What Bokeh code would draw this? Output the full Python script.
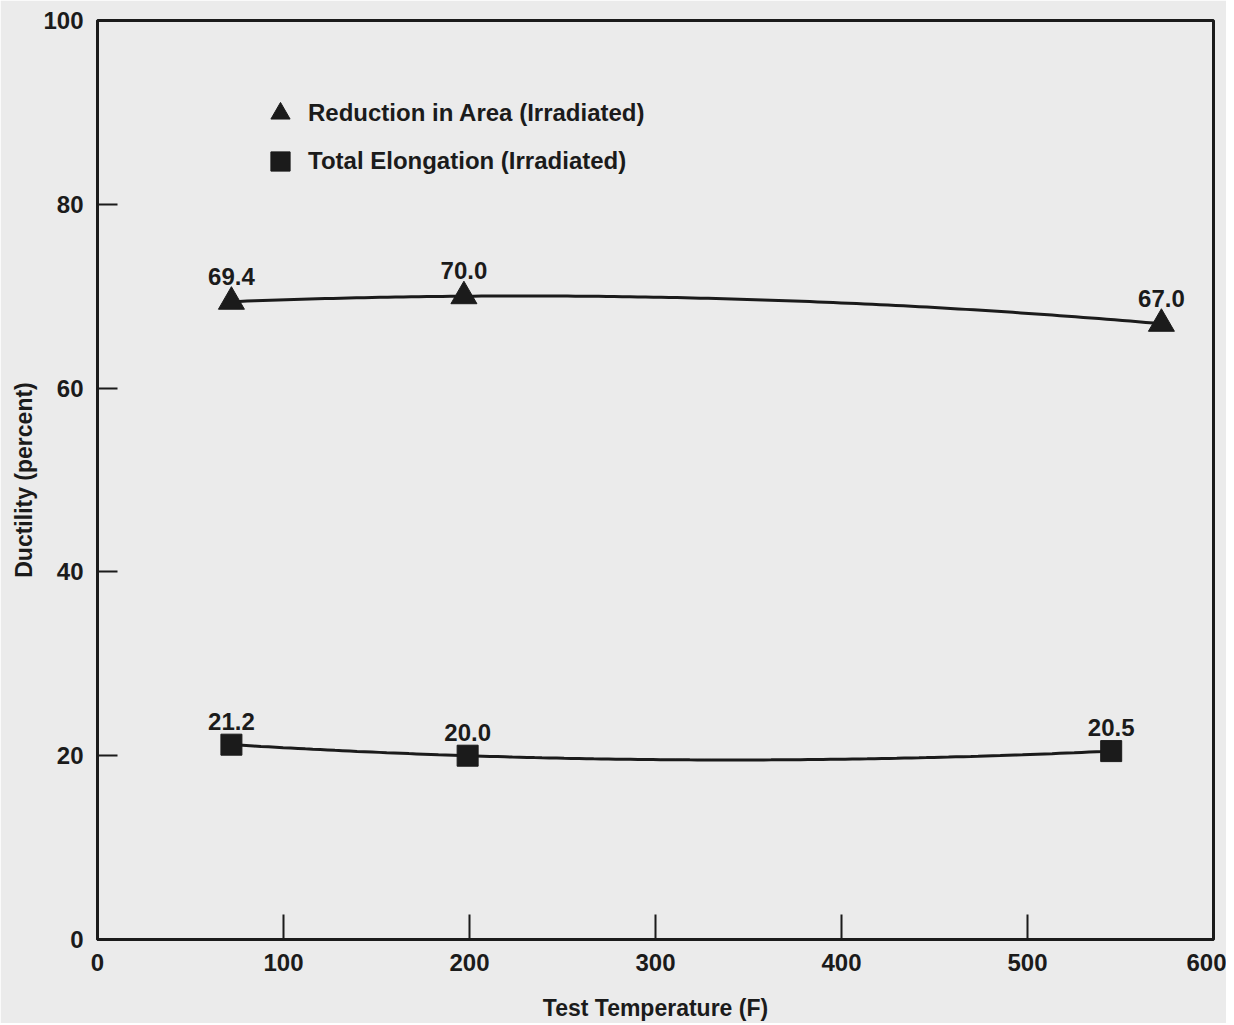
import numpy as np
from bokeh.plotting import figure
from bokeh.models import Range1d, FixedTicker, ColumnDataSource, Legend, LegendItem
from bokeh.core.properties import value
from bokeh.embed import file_html
from bokeh.resources import INLINE

# ---- data ----
ra_temp = [72, 197, 572]          # Test temperature (F), reduction in area
ra_val = [69.4, 70.0, 67.0]       # Reduction in area (%)
te_temp = [72, 199, 545]          # Test temperature (F), total elongation
te_val = [21.2, 20.0, 20.5]       # Total elongation (%)
x_ticks = [0, 100, 200, 300, 400, 500, 600]
y_ticks = [0, 20, 40, 60, 80, 100]

FONT = "Liberation Sans"
INK = "#1b1b1b"
BG = "#ebebeb"

p = figure(width=1226, height=1023, output_backend="svg", toolbar_location=None,
           x_range=Range1d(0, 600), y_range=Range1d(0, 100),
           min_border_left=97, min_border_right=13, min_border_top=20, min_border_bottom=81,
           background_fill_color=BG, border_fill_color=BG)

p.grid.visible = False
p.outline_line_color = INK
p.outline_line_width = 3

for ax in (p.xaxis[0], p.yaxis[0]):
    ax.axis_line_color = INK
    ax.axis_line_width = 3
    ax.major_tick_out = 0
    ax.major_tick_line_color = INK
    ax.major_tick_line_width = 2
    ax.minor_tick_line_color = None
    ax.major_label_text_font = FONT
    ax.major_label_text_font_style = "bold"
    ax.major_label_text_font_size = "24px"
    ax.major_label_text_color = INK
    ax.axis_label_text_font = FONT
    ax.axis_label_text_font_style = "bold"
    ax.axis_label_text_font_size = "23px"
    ax.axis_label_text_color = INK

p.xaxis.ticker = FixedTicker(ticks=x_ticks)
p.yaxis.ticker = FixedTicker(ticks=y_ticks)
p.xaxis.major_tick_in = 25
p.yaxis.major_tick_in = 20
p.xaxis.major_label_standoff = 14
p.yaxis.major_label_standoff = 14
p.xaxis.axis_label = "Test Temperature (F)"
p.yaxis.axis_label = "Ductility (percent)"
p.xaxis.axis_label_standoff = 21
p.yaxis.axis_label_standoff = 3

# smooth curves fitted through the measured points
def smooth(xs, ys):
    c = np.polyfit(xs, ys, 2)
    xx = np.linspace(min(xs), max(xs), 120)
    return xx, np.polyval(c, xx)

rx, ry = smooth(ra_temp, ra_val)
tx, ty = smooth(te_temp, te_val)
p.line(rx, ry, line_color=INK, line_width=3)
p.line(tx, ty, line_color=INK, line_width=3)

ra_src = ColumnDataSource(dict(x=ra_temp, y=ra_val, lab=[f"{v:.1f}" for v in ra_val]))
te_src = ColumnDataSource(dict(x=te_temp, y=te_val, lab=[f"{v:.1f}" for v in te_val]))

r_tri = p.scatter("x", "y", source=ra_src, marker="triangle", size=26,
                  fill_color=INK, line_color=INK)
r_sq = p.scatter("x", "y", source=te_src, marker="square", size=21,
                 fill_color=INK, line_color=INK)

for src, off in ((ra_src, -17), (te_src, -15)):
    p.text("x", "y", text="lab", source=src, y_offset=off, text_align="center",
           text_baseline="bottom", text_font=value(FONT), text_font_style="bold",
           text_font_size="24px", text_color=INK)

legend = Legend(items=[LegendItem(label="Reduction in Area (Irradiated)", renderers=[r_tri]),
                       LegendItem(label="Total Elongation (Irradiated)", renderers=[r_sq])],
                location=(155, 754), background_fill_alpha=0, border_line_color=None,
                label_text_font=FONT, label_text_font_style="bold",
                label_text_font_size="24px", label_text_color=INK,
                glyph_width=56, glyph_height=48, label_standoff=0, spacing=0, padding=4)
p.add_layout(legend, "center")

open("out.html", "w").write(file_html(p, INLINE))
